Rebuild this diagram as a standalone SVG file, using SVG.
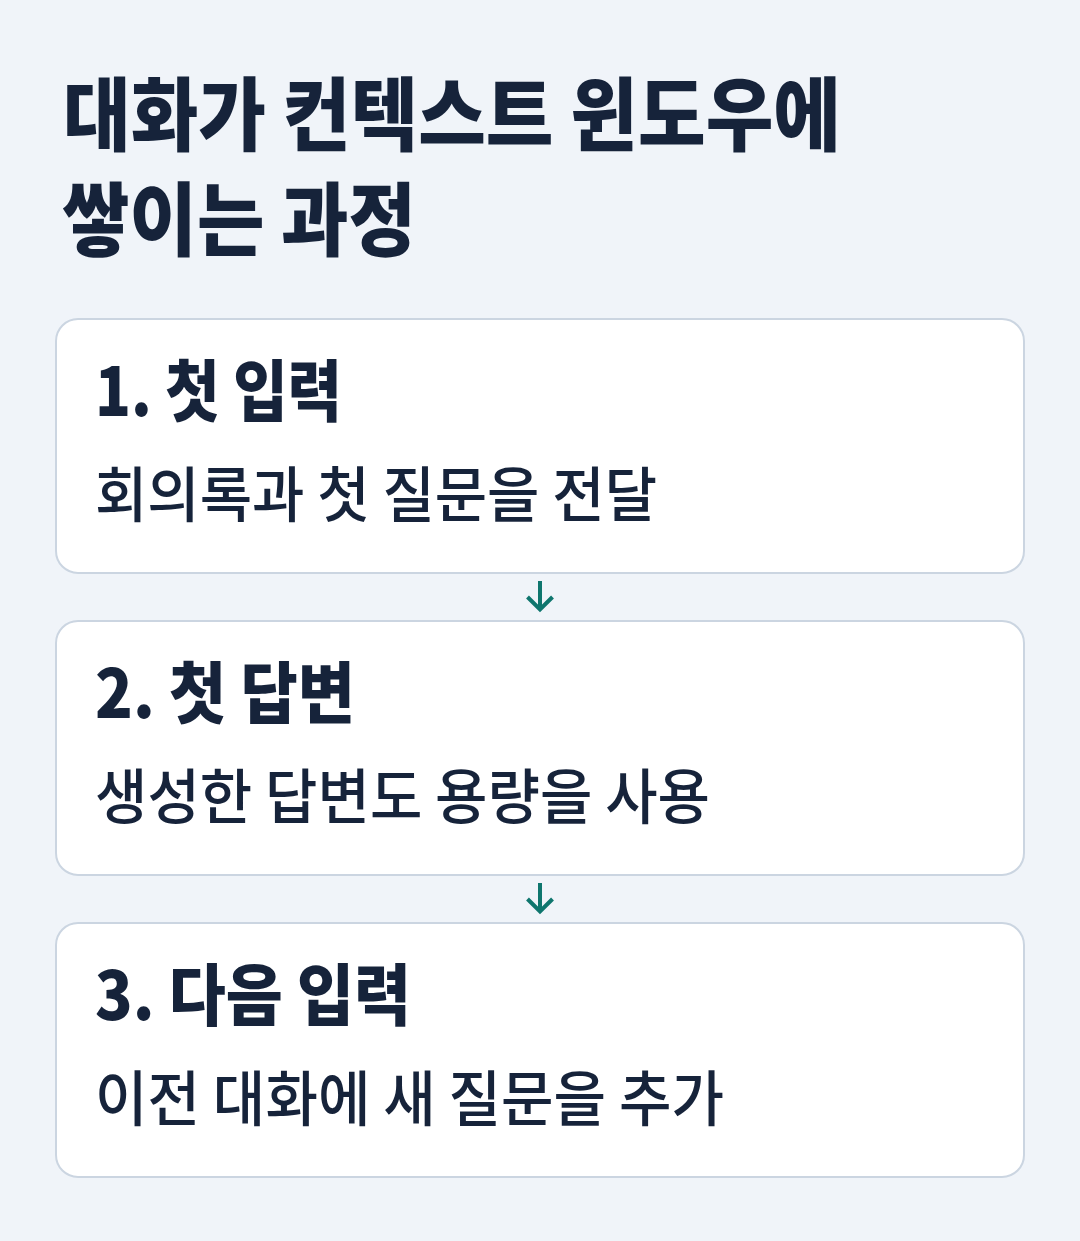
<svg xmlns="http://www.w3.org/2000/svg" width="1080" height="1241" viewBox="0 0 1080 1241">
<style>
text{font-family:"Noto Sans CJK KR","Noto Sans",sans-serif;fill:#16233a}
.h{font-size:80px;font-weight:800}
.t{font-size:67px;font-weight:800}
.s{font-size:60px;font-weight:500}
.card{fill:#ffffff;stroke:#cbd5e1;stroke-width:2}
.arr{fill:none;stroke:#0f766e;stroke-width:4;stroke-linecap:butt}
</style>
<rect width="1080" height="1241" fill="#f0f4f9"/>
<g id="title">
<text class="h" x="63" y="144" textLength="778" lengthAdjust="spacingAndGlyphs">대화가 컨텍스트 윈도우에</text>
<text class="h" x="62" y="249" textLength="354" lengthAdjust="spacingAndGlyphs">쌓이는 과정</text>
</g>
<g id="node1">
<rect class="card" x="56" y="319" width="968" height="254" rx="22"/>
<text class="t" x="95" y="416" textLength="247" lengthAdjust="spacingAndGlyphs">1. 첫 입력</text>
<text class="s" x="95" y="517" textLength="562" lengthAdjust="spacingAndGlyphs">회의록과 첫 질문을 전달</text>
</g>
<g id="node2">
<rect class="card" x="56" y="621" width="968" height="254" rx="22"/>
<text class="t" x="95" y="718" textLength="260" lengthAdjust="spacingAndGlyphs">2. 첫 답변</text>
<text class="s" x="95" y="819" textLength="615" lengthAdjust="spacingAndGlyphs">생성한 답변도 용량을 사용</text>
</g>
<g id="node3">
<rect class="card" x="56" y="923" width="968" height="254" rx="22"/>
<text class="t" x="95" y="1020" textLength="316" lengthAdjust="spacingAndGlyphs">3. 다음 입력</text>
<text class="s" x="95" y="1121" textLength="629" lengthAdjust="spacingAndGlyphs">이전 대화에 새 질문을 추가</text>
</g>
<g id="connectors">
<path class="arr" d="M540 581V609M527.5 597L540 609.5L552.5 597"/>
<path class="arr" d="M540 883V911M527.5 899L540 911.5L552.5 899"/>
</g>
</svg>
